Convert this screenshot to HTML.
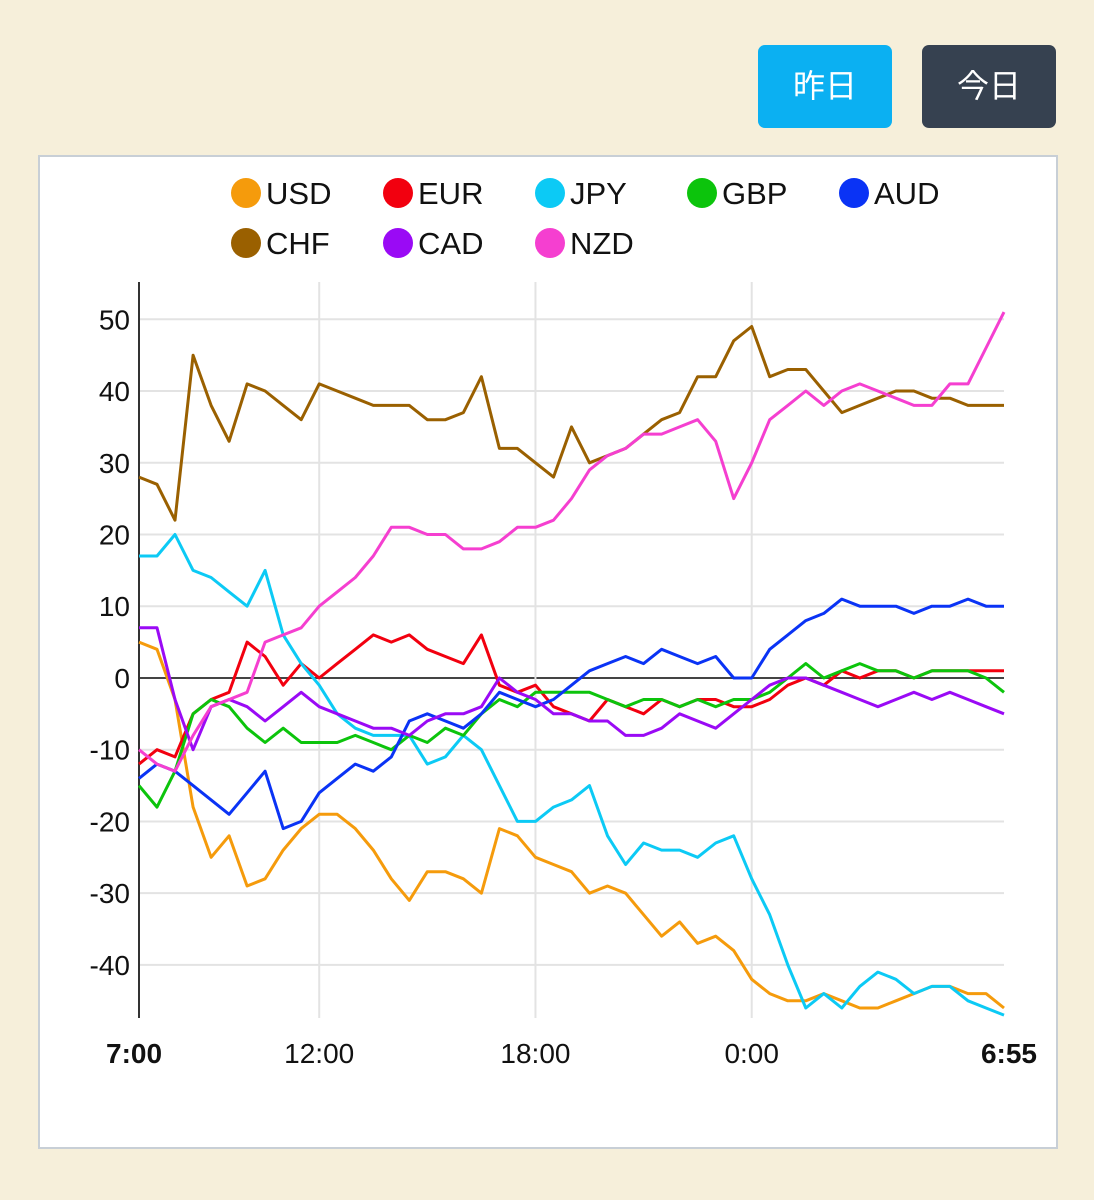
<!DOCTYPE html>
<html><head><meta charset="utf-8">
<style>
body{margin:0;width:1094px;height:1200px;background:#f6efda;font-family:"Liberation Sans","Noto Sans CJK JP",sans-serif;position:relative;overflow:hidden}
.btn{position:absolute;top:45px;width:134px;height:83px;border-radius:7px;color:#fff;font-size:32px;line-height:83px;text-align:center}
#panel{position:absolute;left:38px;top:155px;width:1016px;height:990px;background:#fff;border:2px solid #c8cfd6}
</style></head><body>
<div class="btn" style="left:758px;background:#0bb0f2">昨日</div>
<div class="btn" style="left:922px;background:#364150">今日</div>
<div id="panel"></div>
<svg id="chart" width="1094" height="1200" style="position:absolute;left:0;top:0"></svg>
<script>
const times=["7:00","7:30","8:00","8:30","9:00","9:30","10:00","10:30","11:00","11:30","12:00","12:30","13:00","13:30","14:00","14:30","15:00","15:30","16:00","16:30","17:00","17:30","18:00","18:30","19:00","19:30","20:00","20:30","21:00","21:30","22:00","22:30","23:00","23:30","0:00","0:30","1:00","1:30","2:00","2:30","3:00","3:30","4:00","4:30","5:00","5:30","6:00","6:30","6:55"];
const xTicks=["7:00","12:00","18:00","0:00","6:55"];
const yTicks=[-40,-30,-20,-10,0,10,20,30,40,50];
const usd=[5,4,-3,-18,-25,-22,-29,-28,-24,-21,-19,-19,-21,-24,-28,-31,-27,-27,-28,-30,-21,-22,-25,-26,-27,-30,-29,-30,-33,-36,-34,-37,-36,-38,-42,-44,-45,-45,-44,-45,-46,-46,-45,-44,-43,-43,-44,-44,-46];
const eur=[-12,-10,-11,-5,-3,-2,5,3,-1,2,0,2,4,6,5,6,4,3,2,6,-1,-2,-1,-4,-5,-6,-3,-4,-5,-3,-4,-3,-3,-4,-4,-3,-1,0,-1,1,0,1,1,0,1,1,1,1,1];
const jpy=[17,17,20,15,14,12,10,15,6,2,-1,-5,-7,-8,-8,-8,-12,-11,-8,-10,-15,-20,-20,-18,-17,-15,-22,-26,-23,-24,-24,-25,-23,-22,-28,-33,-40,-46,-44,-46,-43,-41,-42,-44,-43,-43,-45,-46,-47];
const gbp=[-15,-18,-13,-5,-3,-4,-7,-9,-7,-9,-9,-9,-8,-9,-10,-8,-9,-7,-8,-5,-3,-4,-2,-2,-2,-2,-3,-4,-3,-3,-4,-3,-4,-3,-3,-2,0,2,0,1,2,1,1,0,1,1,1,0,-2];
const aud=[-14,-12,-13,-15,-17,-19,-16,-13,-21,-20,-16,-14,-12,-13,-11,-6,-5,-6,-7,-5,-2,-3,-4,-3,-1,1,2,3,2,4,3,2,3,0,0,4,6,8,9,11,10,10,10,9,10,10,11,10,10];
const chf=[28,27,22,45,38,33,41,40,38,36,41,40,39,38,38,38,36,36,37,42,32,32,30,28,35,30,31,32,34,36,37,42,42,47,49,42,43,43,40,37,38,39,40,40,39,39,38,38,38];
const cad=[7,7,-3,-10,-4,-3,-4,-6,-4,-2,-4,-5,-6,-7,-7,-8,-6,-5,-5,-4,0,-2,-3,-5,-5,-6,-6,-8,-8,-7,-5,-6,-7,-5,-3,-1,0,0,-1,-2,-3,-4,-3,-2,-3,-2,-3,-4,-5];
const nzd=[-10,-12,-13,-8,-4,-3,-2,5,6,7,10,12,14,17,21,21,20,20,18,18,19,21,21,22,25,29,31,32,34,34,35,36,33,25,30,36,38,40,38,40,41,40,39,38,38,41,41,46,51];
const names=["USD","EUR","JPY","GBP","AUD","CHF","CAD","NZD"];
const colors=["#f59b0c","#f2000f","#0ccaf5","#0cc40c","#0a33f5","#9a6000","#9a0af5","#f53fd0"];
const series=[usd,eur,jpy,gbp,aud,chf,cad,nzd];
const NS="http://www.w3.org/2000/svg",svg=document.getElementById('chart');
const X0=139,X1=1004,Y0=282,Y1=1018,VMIN=-47.4,VMAX=55.2;
const xs=i=>X0+(X1-X0)*i/(times.length-1);
const xt=t=>xs(times.indexOf(t));
const ys=v=>Y1-(v-VMIN)/(VMAX-VMIN)*(Y1-Y0);
function mk(tag,at,parent){const e=document.createElementNS(NS,tag);for(const k in at)e.setAttribute(k,at[k]);(parent||svg).appendChild(e);return e;}
yTicks.forEach(v=>{
 const l=mk('line',{x1:X0,x2:X1,y1:ys(v),y2:ys(v),stroke:v===0?'#444':'#e3e3e3','stroke-width':2});
 
 
 const t=mk('text',{x:130,y:ys(v)+10,'text-anchor':'end','font-size':28,fill:'#111'});
 t.textContent=v;
 
 
});
xTicks.forEach((tk,i)=>{
 const x=xt(tk);
 if(i>0&&i<xTicks.length-1){const l=mk('line',{x1:x,x2:x,y1:Y0,y2:Y1,stroke:'#e3e3e3','stroke-width':2});
 
 }
 const anchor=i===0?'start':(i===xTicks.length-1?'end':'middle');
 const tx=i===0?x-33:(i===xTicks.length-1?x+33:x);
 const t=mk('text',{x:tx,y:1063,'text-anchor':anchor,'font-size':28,fill:'#111','font-weight':(i===0||i===xTicks.length-1)?'bold':'normal'});
 t.textContent=tk;
 
 
});
const ax=mk('line',{x1:X0,x2:X0,y1:Y0,y2:Y1,stroke:'#333','stroke-width':2});


series.forEach((s,k)=>{
 const p=mk('polyline',{points:s.map((v,i)=>xs(i).toFixed(1)+','+ys(v).toFixed(1)).join(' '),fill:'none',stroke:colors[k],'stroke-width':3,'stroke-linejoin':'round'});
 
 
});
const legX=[246,398,550,702,854];
names.forEach((n,k)=>{
 const cx=legX[k%5],cy=k<5?193:243;
 const g=mk('g',{});
 
 
 mk('circle',{cx:cx,cy:cy,r:15,fill:colors[k]},g);
 const t=mk('text',{x:cx+20,y:cy+11,'font-size':31,fill:'#111'},g);
 t.textContent=n;
});
</script>
</body></html>
